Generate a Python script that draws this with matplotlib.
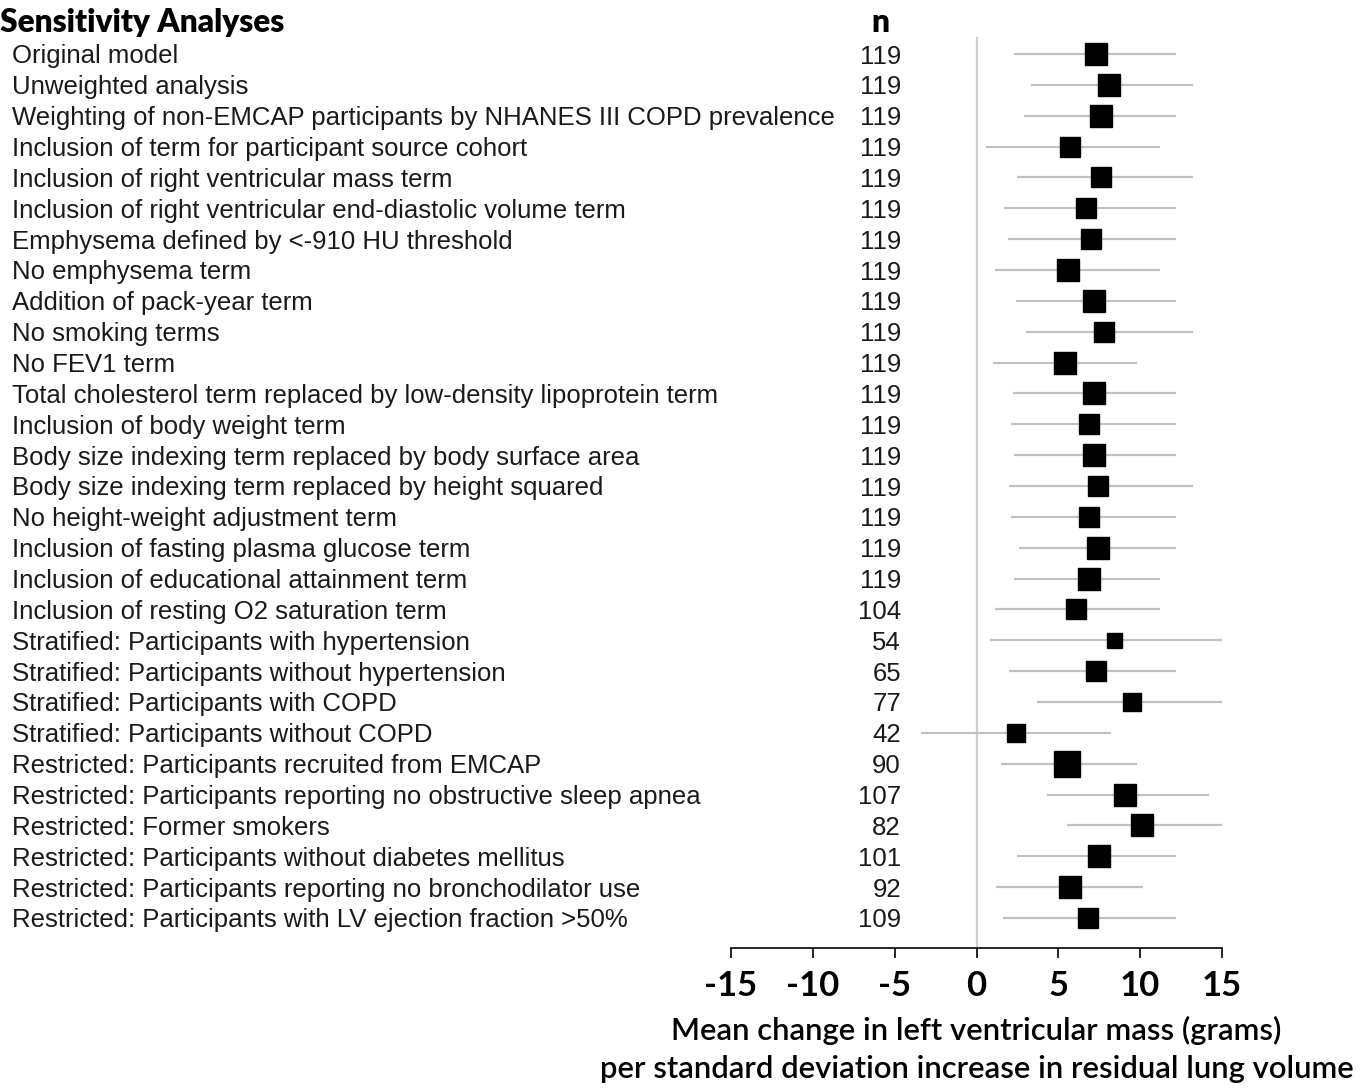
import matplotlib
matplotlib.use("Agg")
import matplotlib.pyplot as plt
from matplotlib.transforms import blended_transform_factory

labels = [
    "Original model",
    "Unweighted analysis",
    "Weighting of non-EMCAP participants by NHANES III COPD prevalence",
    "Inclusion of term for participant source cohort",
    "Inclusion of right ventricular mass term",
    "Inclusion of right ventricular end-diastolic volume term",
    "Emphysema defined by <-910 HU threshold",
    "No emphysema term",
    "Addition of pack-year term",
    "No smoking terms",
    "No FEV1 term",
    "Total cholesterol term replaced by low-density lipoprotein term",
    "Inclusion of body weight term",
    "Body size indexing term replaced by body surface area",
    "Body size indexing term replaced by height squared",
    "No height-weight adjustment term",
    "Inclusion of fasting plasma glucose term",
    "Inclusion of educational attainment term",
    "Inclusion of resting O2 saturation term",
    "Stratified: Participants with hypertension",
    "Stratified: Participants without hypertension",
    "Stratified: Participants with COPD",
    "Stratified: Participants without COPD",
    "Restricted: Participants recruited from EMCAP",
    "Restricted: Participants reporting no obstructive sleep apnea",
    "Restricted: Former smokers",
    "Restricted: Participants without diabetes mellitus",
    "Restricted: Participants reporting no bronchodilator use",
    "Restricted: Participants with LV ejection fraction >50%",
]
n_values = [119, 119, 119, 119, 119, 119, 119, 119, 119, 119, 119, 119, 119, 119,
            119, 119, 119, 119, 104, 54, 65, 77, 42, 90, 107, 82, 101, 92, 109]
estimates = [7.3, 8.1, 7.6, 5.7, 7.6, 6.7, 7.0, 5.6, 7.2, 7.8, 5.4, 7.2, 6.9, 7.2,
             7.4, 6.9, 7.4, 6.9, 6.1, 8.4, 7.3, 9.5, 2.4, 5.5, 9.1, 10.1, 7.5, 5.7, 6.8]
ci_low = [2.3, 3.3, 2.9, 0.6, 2.5, 1.7, 1.9, 1.1, 2.4, 3.0, 1.0, 2.2, 2.1, 2.3,
          2.0, 2.1, 2.6, 2.3, 1.1, 0.8, 2.0, 3.7, -3.4, 1.5, 4.3, 5.5, 2.5, 1.2, 1.6]
ci_high = [12.2, 13.2, 12.2, 11.2, 13.2, 12.2, 12.2, 11.2, 12.2, 13.2, 9.8, 12.2, 12.2, 12.2,
           13.2, 12.2, 12.2, 11.2, 11.2, 16.0, 12.2, 15.2, 8.2, 9.8, 14.2, 15.2, 12.2, 10.2, 12.2]
box_weight = [22, 22, 23, 20, 20, 20, 20, 22, 23, 20, 23, 22, 20, 22,
              20, 20, 23, 23, 20, 15, 20, 18, 18, 27, 22, 22, 23, 23, 20]
xticks = [-15, -10, -5, 0, 5, 10, 15]
xlabel = "Mean change in left ventricular mass (grams)\nper standard deviation increase in residual lung volume"

W, H = 1368, 1090
fig = plt.figure(figsize=(W / 100, H / 100), dpi=100)

ax_left, ax_right = 731, 1222
ax_top, ax_bottom = 37, 948
ax = fig.add_axes([ax_left / W, 1 - ax_bottom / H, (ax_right - ax_left) / W, (ax_bottom - ax_top) / H])

nrows = len(labels)
row0, rowN = 54, 918
step = (rowN - row0) / (nrows - 1)
ax.set_ylim(nrows - 1 + (ax_bottom - rowN) / step, -(row0 - ax_top) / step)
ax.set_xlim(-15, 15)

ax.axvline(0, color="#cfcfcf", lw=1.6, zorder=1)
ys = list(range(nrows))
for y, lo, hi in zip(ys, ci_low, ci_high):
    ax.plot([lo, hi], [y, y], color="#c0c0c0", lw=1.6, zorder=2, solid_capstyle="butt")
for y, est, w in zip(ys, estimates, box_weight):
    ax.plot([est], [y], marker="s", color="black", markersize=w * 0.72, zorder=3, linestyle="none")

for s in ["top", "right", "left"]:
    ax.spines[s].set_visible(False)
ax.spines["bottom"].set_color("black")
ax.spines["bottom"].set_linewidth(1.2)
ax.set_yticks([])
ax.set_xticks(xticks)
ax.set_xticklabels([str(t) for t in xticks], fontfamily="Lato", fontweight="bold", fontsize=25)
ax.tick_params(axis="x", direction="out", length=7, width=1.2, pad=9, colors="black")
ax.set_xlabel(xlabel, fontfamily="Lato", fontweight="semibold", fontsize=22.3, labelpad=10,
              linespacing=1.42)

tr = blended_transform_factory(fig.transFigure, ax.transData)
for y, lab, n in zip(ys, labels, n_values):
    ax.text(12 / W, y, lab, transform=tr, ha="left", va="center_baseline",
            fontfamily="Liberation Sans", fontsize=18.5, color="#1a1a1a", clip_on=False)
    ax.text(901 / W, y, str(n), transform=tr, ha="right", va="center_baseline",
            fontfamily="Liberation Sans", fontsize=18.5, color="#1a1a1a", clip_on=False)

fig.text(0 / W, 1 - 20 / H, "Sensitivity Analyses", ha="left", va="center_baseline",
         fontfamily="Lato", fontweight="heavy", fontsize=22.8)
fig.text(880 / W, 1 - 20 / H, "n", ha="center", va="center_baseline",
         fontfamily="Lato", fontweight="heavy", fontsize=22.8)

fig.savefig("out.png", dpi=100, facecolor="white")
